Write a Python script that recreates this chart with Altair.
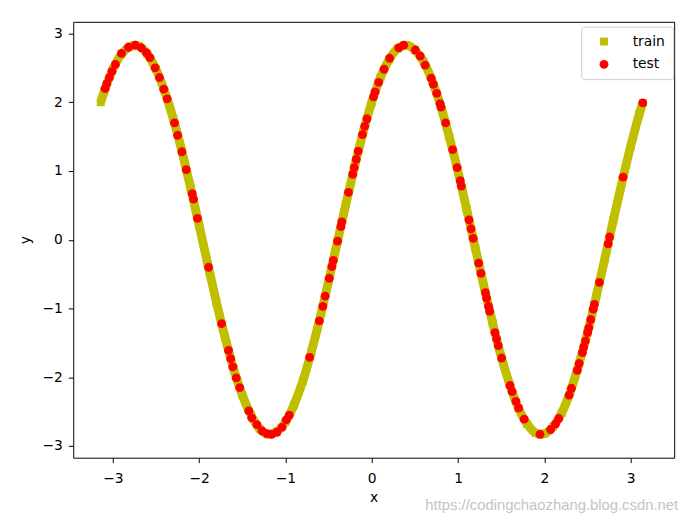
import altair as alt
import pandas as pd

# ---- data ----
train_x = [-3.14, -3.1, -3.0, -2.9, -2.8, -2.75, -2.7, -2.6, -2.5, -2.4, -2.3, -2.2, -2.1,
           -2.0, -1.9, -1.8, -1.7, -1.6, -1.5, -1.4, -1.3, -1.2, -1.1, -1.0, -0.9, -0.8,
           -0.7, -0.6, -0.5, -0.4, -0.3, -0.2, -0.1, 0.0, 0.1, 0.2, 0.3, 0.4, 0.5, 0.6,
           0.7, 0.8, 0.9, 1.0, 1.1, 1.2, 1.3, 1.4, 1.5, 1.6, 1.7, 1.8, 1.9, 1.96, 2.0,
           2.1, 2.2, 2.3, 2.4, 2.5, 2.6, 2.7, 2.8, 2.9, 3.0, 3.1, 3.14]
train_y = [2.00, 2.16, 2.48, 2.70, 2.81, 2.83, 2.82, 2.70, 2.48, 2.16, 1.76, 1.29, 0.76,
           0.21, -0.36, -0.91, -1.42, -1.88, -2.26, -2.55, -2.75, -2.83, -2.79, -2.65,
           -2.40, -2.06, -1.63, -1.14, -0.60, -0.04, 0.52, 1.06, 1.56, 2.00, 2.36, 2.62,
           2.78, 2.83, 2.76, 2.59, 2.31, 1.94, 1.49, 0.99, 0.44, -0.12, -0.68, -1.21,
           -1.70, -2.11, -2.45, -2.68, -2.81, -2.83, -2.82, -2.72, -2.52, -2.21, -1.81,
           -1.35, -0.83, -0.28, 0.29, 0.84, 1.36, 1.83, 1.99]

test_x = [-3.09, -3.07, -3.04, -3.01, -2.97, -2.90, -2.82, -2.74, -2.67, -2.61, -2.57,
          -2.51, -2.46, -2.41, -2.37, -2.285, -2.25, -2.20, -2.15, -2.08, -2.065, -2.02,
          -1.89, -1.74, -1.66, -1.635, -1.61, -1.57, -1.53, -1.425, -1.39, -1.33, -1.27,
          -1.215, -1.16, -1.10, -1.04, -0.99, -0.955, -0.72, -0.608, -0.567, -0.540,
          -0.492, -0.462, -0.445, -0.396, -0.358, -0.347, -0.270, -0.221, -0.203, -0.180,
          -0.157, -0.108, -0.082, -0.056, 0.020, 0.039, 0.080, 0.143, 0.2075, 0.313,
          0.370, 0.505, 0.562, 0.619, 0.688, 0.714, 0.753, 0.791, 0.803, 0.856, 0.937,
          0.989, 1.025, 1.038, 1.127, 1.150, 1.175, 1.239, 1.265, 1.317, 1.330, 1.353,
          1.366, 1.427, 1.446, 1.466, 1.505, 1.601, 1.626, 1.670, 1.702, 1.766, 1.949,
          2.072, 2.129, 2.167, 2.287, 2.314, 2.381, 2.403, 2.441, 2.456, 2.476, 2.501,
          2.515, 2.538, 2.566, 2.580, 2.638, 2.739, 2.756, 2.912, 3.14]
test_y = [2.20, 2.27, 2.36, 2.45, 2.55, 2.71, 2.80, 2.83, 2.79, 2.72, 2.65, 2.50, 2.36,
          2.19, 2.05, 1.70, 1.52, 1.28, 1.02, 0.67, 0.59, 0.31, -0.40, -1.22, -1.61,
          -1.73, -1.85, -2.01, -2.15, -2.49, -2.59, -2.69, -2.78, -2.82, -2.83, -2.80,
          -2.73, -2.62, -2.55, -1.71, -1.18, -0.97, -0.82, -0.56, -0.39, -0.30, -0.02,
          0.19, 0.26, 0.69, 0.95, 1.05, 1.17, 1.29, 1.53, 1.65, 1.76, 2.08, 2.15, 2.29,
          2.48, 2.64, 2.79, 2.83, 2.76, 2.67, 2.54, 2.35, 2.26, 2.13, 1.98, 1.93, 1.70,
          1.31, 1.05, 0.86, 0.78, 0.29, 0.16, 0.02, -0.34, -0.49, -0.77, -0.85, -0.97,
          -1.04, -1.35, -1.44, -1.54, -1.72, -2.12, -2.21, -2.35, -2.45, -2.61, -2.83,
          -2.76, -2.68, -2.60, -2.26, -2.16, -1.90, -1.80, -1.64, -1.56, -1.47, -1.35,
          -1.28, -1.16, -1.01, -0.94, -0.62, -0.06, 0.04, 0.91, 1.99]

series_names = ["train", "test"]
series_colors = ["#bfbf00", "#ff0000"]
series_shapes = ["square", "circle"]
x_ticks = [-3, -2, -1, 0, 1, 2, 3]
y_ticks = [-3, -2, -1, 0, 1, 2, 3]
watermark = "https://codingchaozhang.blog.csdn.net"

train = pd.DataFrame({"x": train_x, "y": train_y, "series": "train"})
test = pd.DataFrame({"x": test_x, "y": test_y, "series": "test"})
pts = pd.concat([train, test], ignore_index=True)

FONT = "DejaVu Sans"
xs = alt.Scale(domain=[-3.459, 3.504], nice=False, zero=False)
ys = alt.Scale(domain=[-3.17, 3.17], nice=False, zero=False)
xax = alt.Axis(values=x_ticks, title="x", labelPadding=9, titlePadding=5)
yax = alt.Axis(values=y_ticks, title="y", labelPadding=6, titlePadding=10)

legend = alt.Legend(
    title=None, orient="none", legendX=514, legendY=5,
    fillColor="white", strokeColor="#cccccc", cornerRadius=3, padding=8,
    labelFont=FONT, labelFontSize=14, labelColor="black",
    symbolSize=60, symbolStrokeWidth=0, symbolOffset=8, labelOffset=22, rowPadding=9,
)

band = alt.Chart(train).mark_line(
    color="#bfbf00", strokeWidth=9, interpolate="monotone", strokeCap="butt"
).encode(
    x=alt.X("x:Q", scale=xs, axis=xax),
    y=alt.Y("y:Q", scale=ys, axis=yax),
)

points = alt.Chart(pts).mark_point(filled=True, opacity=1, strokeWidth=0).encode(
    x=alt.X("x:Q", scale=xs, axis=xax),
    y=alt.Y("y:Q", scale=ys, axis=yax),
    color=alt.Color("series:N", scale=alt.Scale(domain=series_names, range=series_colors), legend=legend),
    shape=alt.Shape("series:N", scale=alt.Scale(domain=series_names, range=series_shapes), legend=legend),
    size=alt.Size("series:N", scale=alt.Scale(domain=series_names, range=[64, 80]), legend=None),
    order=alt.Order("order:Q"),
).transform_calculate(order="datum.series == 'train' ? 0 : 1")

chart = alt.layer(band, points).properties(
    width=608, height=441,
    autosize=alt.AutoSizeParams(type="none"),
    padding={"left": 66, "top": 11, "right": 15, "bottom": 55},
    background="white",
    title=alt.TitleParams(
        text=watermark, orient="bottom", anchor="end", color="#c4c4c4",
        fontSize=15, font="Liberation Sans", fontWeight="normal", dx=4, offset=-6,
    ),
).configure_view(
    stroke="black", strokeWidth=1
).configure_axis(
    domain=False, grid=False, tickColor="black", tickSize=5, tickWidth=1,
    labelFont=FONT, labelFontSize=14, labelColor="black",
    titleFont=FONT, titleFontSize=14, titleFontWeight="normal", titleColor="black",
)

chart.save("out.html", embed_options={"renderer": "svg", "actions": False})
